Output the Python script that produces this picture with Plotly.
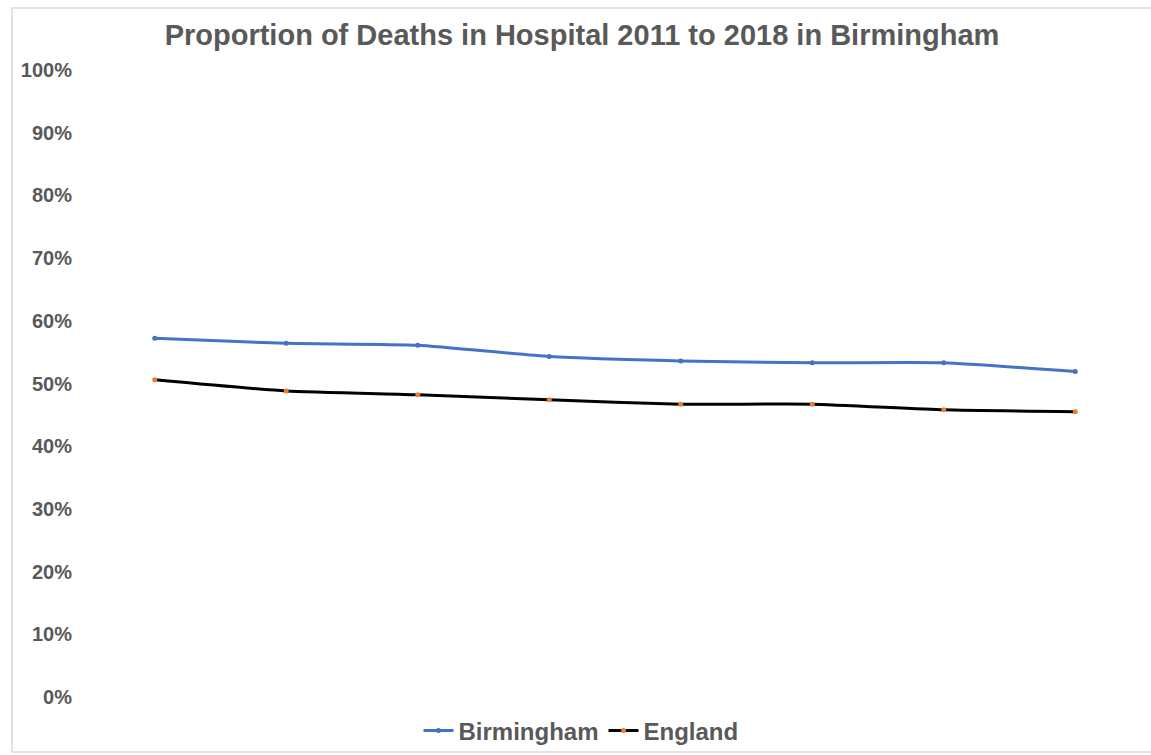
import plotly.graph_objects as go

years = ["2011", "2012", "2013", "2014", "2015", "2016", "2017", "2018"]
birmingham = [0.572, 0.564, 0.561, 0.543, 0.536, 0.533, 0.533, 0.519]
england = [0.506, 0.488, 0.482, 0.474, 0.467, 0.467, 0.458, 0.455]

W, H = 1151, 755
L, R, T, B = 89, 10, 70, 58
pw, ph = W - L - R, H - T - B

fig = go.Figure()
fig.add_trace(go.Scatter(
    x=years, y=birmingham, name="Birmingham", mode="lines+markers",
    line=dict(color="#4472C4", width=3, shape="spline", smoothing=0.5),
    marker=dict(color="#4472C4", size=5),
))
fig.add_trace(go.Scatter(
    x=years, y=england, name="England", mode="lines+markers",
    line=dict(color="#000000", width=3, shape="spline", smoothing=0.5),
    marker=dict(color="#ED7D31", size=5),
))

# light grey frame around the whole chart
fig.add_shape(
    type="rect", xref="paper", yref="paper",
    x0=(12 - L) / pw, x1=(W + 5 - L) / pw,
    y0=-(752 - (T + ph)) / ph, y1=(T + ph - 8) / ph,
    line=dict(color="#D9D9D9", width=1.5), fillcolor="rgba(0,0,0,0)", layer="below",
)

fig.update_layout(
    width=W, height=H,
    margin=dict(l=L, r=R, t=T, b=B, autoexpand=False),
    paper_bgcolor="white", plot_bgcolor="white",
    title=dict(
        text="<b>Proportion of Deaths in Hospital 2011 to 2018 in Birmingham</b>",
        x=582 / W, xanchor="center", y=1 - 35 / H, yanchor="middle", yref="container",
        font=dict(family="Arial, Liberation Sans", size=29, color="#595959"),
    ),
    xaxis=dict(
        type="category", showticklabels=False, showgrid=False, zeroline=False,
        showline=False, ticks="", range=[-0.5, 7.5],
    ),
    yaxis=dict(
        range=[0, 1], dtick=0.1, tickformat=".0%", showgrid=False, zeroline=False,
        showline=False, ticks="", ticklabelstandoff=16,
        tickfont=dict(family="Arial, Liberation Sans", size=20, color="#595959", weight="bold"),
    ),
    legend=dict(
        orientation="h", x=581 / W, xref="container", xanchor="center",
        y=1 - 731 / H, yref="container", yanchor="middle",
        font=dict(family="Arial, Liberation Sans", size=24, color="#595959", weight="bold"),
        itemwidth=30, tracegroupgap=0, bgcolor="rgba(0,0,0,0)",
    ),
    showlegend=True,
)

fig.write_html("out.html")
